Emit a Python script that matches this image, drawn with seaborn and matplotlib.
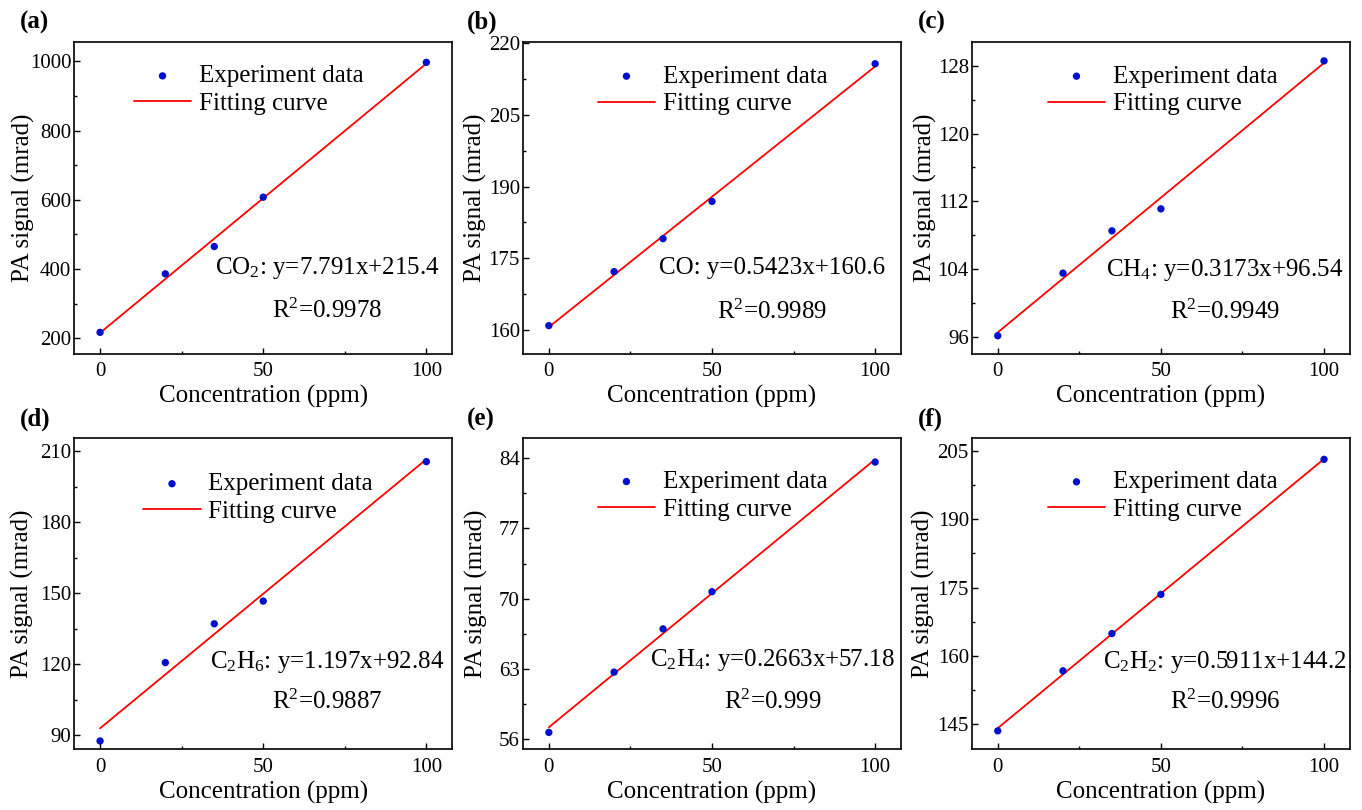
import numpy as np
import pandas as pd
import matplotlib
matplotlib.use("Agg")
import matplotlib.pyplot as plt
import seaborn as sns
from matplotlib.ticker import FixedLocator, AutoMinorLocator

# Gas concentrations (ppm) and measured photoacoustic signals (mrad)
concentration = [0, 20, 35, 50, 100]

co2_signal = [217.0, 386.0, 465.0, 607.5, 997.0]
co_signal = [160.9, 172.2, 179.1, 186.9, 215.7]
ch4_signal = [96.1, 103.5, 108.5, 111.1, 128.6]
c2h6_signal = [87.6, 120.7, 137.1, 146.7, 205.6]
c2h4_signal = [56.7, 62.7, 67.0, 70.7, 83.6]
c2h2_signal = [143.5, 156.7, 164.9, 173.5, 203.2]

signals = [co2_signal, co_signal, ch4_signal, c2h6_signal, c2h4_signal, c2h2_signal]

panel_tags = ["(a)", "(b)", "(c)", "(d)", "(e)", "(f)"]
equations = [
    r"CO$_2$: y=7.791x+215.4",
    r"CO: y=0.5423x+160.6",
    r"CH$_4$: y=0.3173x+96.54",
    r"C$_2$H$_6$: y=1.197x+92.84",
    r"C$_2$H$_4$: y=0.2663x+57.18",
    r"C$_2$H$_2$: y=0.5911x+144.2",
]
r_squared = ["0.9978", "0.9989", "0.9949", "0.9887", "0.999", "0.9996"]

# Y tick labels per panel
y_ticks = [
    [200, 400, 600, 800, 1000],
    [160, 175, 190, 205, 220],
    [96, 104, 112, 120, 128],
    [90, 120, 150, 180, 210],
    [56, 63, 70, 77, 84],
    [145, 160, 175, 190, 205],
]
x_ticks = [0, 50, 100]

# Axis ranges per panel
y_limits = [(155, 1055), (155.0, 220.2), (93.96, 130.8),
            (84.0, 215.6), (55.0, 86.0), (139.4, 207.9)]
x_limits = (-8, 108)

# Layout (figure fractions / pixels)
col_left = [0.0543, 0.3838, 0.7134]
row_bottom = [0.5632, 0.0747]
ax_w, ax_h = 0.2779, 0.3846
ax_w_px = ax_w * 1362
ylabel_offset_px = [39, 36, 35, 40, 35, 37]
legend_anchor = [(0.158, 0.847), (0.198, 0.846), (0.201, 0.846),
                 (0.183, 0.808), (0.198, 0.815), (0.201, 0.814)]
eq_pos = [(0.669, 0.274, 0.139), (0.659, 0.275, 0.136), (0.669, 0.270, 0.136),
          (0.669, 0.281, 0.153), (0.660, 0.288, 0.154), (0.670, 0.281, 0.153)]
tag_pos = [(20, 22), (467, 22), (918, 22), (20, 419), (467, 419), (918, 419)]

sns.set_theme(style="ticks")
plt.rcParams.update({
    "font.family": ["Liberation Serif", "DejaVu Serif"],
    "mathtext.fontset": "custom",
    "mathtext.rm": "Liberation Serif",
    "mathtext.it": "Liberation Serif:italic",
    "mathtext.bf": "Liberation Serif:bold",
    "axes.linewidth": 1.2,
    "axes.edgecolor": "black",
    "xtick.direction": "in",
    "ytick.direction": "in",
    "xtick.color": "black",
    "ytick.color": "black",
    "text.color": "black",
    "axes.labelcolor": "black",
})

W, H = 1362, 810
fig = plt.figure(figsize=(W / 100, H / 100), dpi=100)

for i, sig in enumerate(signals):
    r, c = divmod(i, 3)
    ax = fig.add_axes([col_left[c], row_bottom[r], ax_w, ax_h])

    df = pd.DataFrame({"Concentration": concentration, "Signal": sig})
    slope, intercept = np.polyfit(df["Concentration"], df["Signal"], 1)
    fit = pd.DataFrame({"Concentration": [0, 100]})
    fit["Signal"] = slope * fit["Concentration"] + intercept

    sns.lineplot(data=fit, x="Concentration", y="Signal", color="#FF0000",
                 linewidth=1.3, label="Fitting curve", ax=ax, zorder=2)
    sns.scatterplot(data=df, x="Concentration", y="Signal", color="#0010CC",
                    s=28, edgecolor="none", label="Experiment data", ax=ax,
                    zorder=3)

    ax.set_xlim(*x_limits)
    ax.set_ylim(*y_limits[i])
    ax.xaxis.set_major_locator(FixedLocator(x_ticks))
    ax.xaxis.set_minor_locator(AutoMinorLocator(2))
    ax.yaxis.set_major_locator(FixedLocator(y_ticks[i]))
    ax.yaxis.set_minor_locator(AutoMinorLocator(2))
    ax.tick_params(which="major", length=4, width=1.0, labelsize=15)
    ax.tick_params(axis="x", which="major", pad=6)
    ax.tick_params(axis="y", which="major", pad=2)
    ax.tick_params(which="minor", length=2, width=1.0)
    ax.tick_params(top=False, right=False, which="both")

    ax.set_xlabel("Concentration (ppm)", fontsize=18, labelpad=3)
    ax.set_ylabel("PA signal (mrad)", fontsize=18)
    ax.yaxis.set_label_coords(-ylabel_offset_px[i] / ax_w_px, 0.5)

    handles, labels = ax.get_legend_handles_labels()
    order = [labels.index("Experiment data"), labels.index("Fitting curve")]
    ax.legend([handles[k] for k in order], [labels[k] for k in order],
              frameon=False, loc="center left", bbox_to_anchor=legend_anchor[i],
              borderpad=0, borderaxespad=0, handlelength=2.3,
              handletextpad=0.3, labelspacing=0.2, fontsize=18)

    ex, ey1, ey2 = eq_pos[i]
    ax.text(ex, ey1, equations[i], transform=ax.transAxes, ha="center",
            va="center", fontsize=18)
    ax.text(ex, ey2, r"R$^2$=" + r_squared[i], transform=ax.transAxes,
            ha="center", va="center", fontsize=18)

    tx, ty = tag_pos[i]
    fig.text(tx / W, 1 - ty / H, panel_tags[i], fontsize=18, fontweight="bold",
             ha="left", va="center")

fig.savefig("out.png", dpi=100)
